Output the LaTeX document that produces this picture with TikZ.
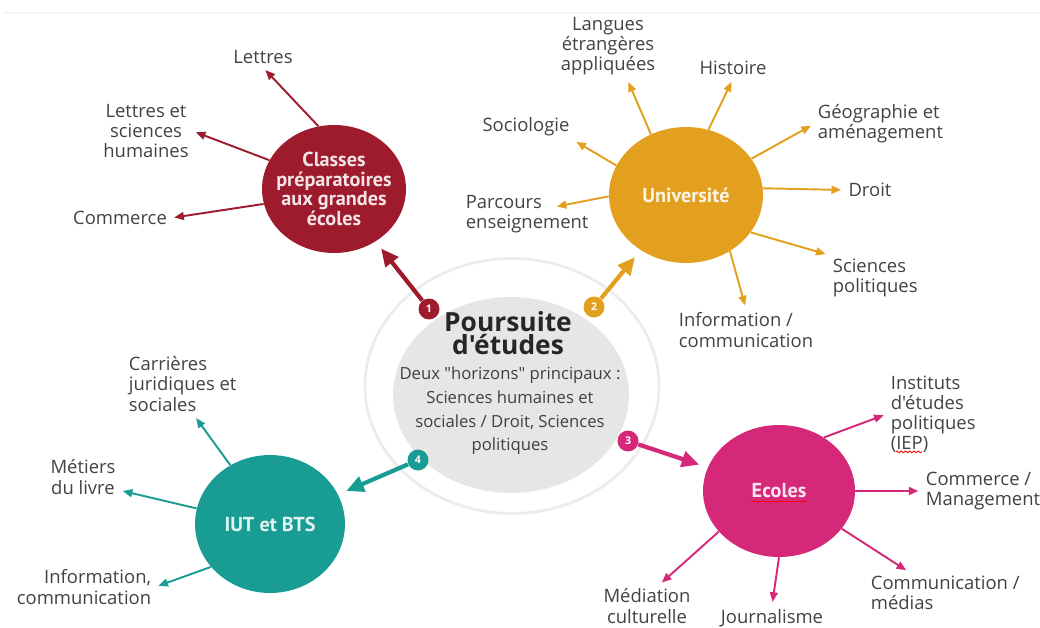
\documentclass[tikz,border=0pt]{standalone}
\usepackage{fontspec}
\setmainfont{Open Sans}[Ligatures=TeXOff]
\newfontfamily\bubblefont{PT Sans}
\usepackage{tikz}
\usetikzlibrary{calc, positioning, arrows.meta, shapes.geometric, decorations.pathmorphing}
\definecolor{prepa}{RGB}{158, 27, 46}
\definecolor{univ}{RGB}{227, 160, 30}
\definecolor{ecole}{RGB}{214, 40, 121}
\definecolor{iut}{RGB}{24, 156, 148}
\definecolor{labeltxt}{RGB}{66, 66, 66}
\definecolor{hub}{RGB}{230, 230, 230}
\definecolor{hubring}{RGB}{236, 236, 236}

\begin{document}
\begin{tikzpicture}[x=0.02cm, y=-0.02cm, font=\fontsize{10.5}{11.5}\selectfont,
  bubble/.style={ellipse, fill=#1, inner sep=0pt},
  bubbletext/.style={text=white!88!#1, font=\bubblefont\bfseries\fontsize{11.5}{11.3}\selectfont, align=center},
  lbl/.style={text=labeltxt, align=center, inner sep=2pt},
  arr/.style={draw=#1, line width=1.1pt, -{Triangle[length=5.5pt, width=4.5pt]}, shorten >=2pt},
  bigarr/.style={draw=#1, line width=2.4pt, -{Triangle[length=10pt, width=9pt]}, shorten >=5pt},
  badge/.style={circle, fill=#1, text=white, font=\bfseries\fontsize{6}{6}\selectfont, minimum size=0.42cm, inner sep=0pt},
  spellmark/.style={red, line width=0.5pt}]
  \useasboundingbox (0,0) rectangle (1040,628);
  \draw[black!4, line width=1.5pt] (4,13) -- (1040,13);
  % centre
  \node[ellipse, draw=hubring, line width=1.6pt, minimum width=5.88cm, minimum height=5.1cm] (ring) at (512,386) {};
  \node[ellipse, fill=hub, minimum width=4.72cm, minimum height=3.92cm] (hub) at (511,395) {};
  \node[align=center, text=black!85, font=\bfseries\fontsize{15}{13.5}\selectfont] (title) at (508,333) {Poursuite\\d'études};
  \node[align=center, text=black!75, font=\fontsize{9.5}{13.5}\selectfont] (horizons) at (510,411) {Deux "horizons" principaux :\\Sciences humaines et\\sociales / Droit, Sciences\\politiques};

  % the four ways
  \node[bubble=prepa, minimum width=2.88cm, minimum height=2.56cm,
    label={[bubbletext=prepa]center:{Classes\\préparatoires\\aux grandes\\écoles}}] (prepa) at (334,189) {};
  \node[bubble=univ, minimum width=3.08cm, minimum height=2.72cm,
    label={[bubbletext=univ]center:Université}] (univ) at (686,195) {};
  \node[bubble=ecole, minimum width=3.04cm, minimum height=2.64cm,
    label={[bubbletext=ecole, name=ecoletxt]center:Ecoles}] (ecoles) at (779,491) {};
  \node[bubble=iut, minimum width=3.0cm, minimum height=2.76cm,
    label={[bubbletext=iut]center:IUT et BTS}] (iut) at (270,524) {};
  \draw[spellmark] ([xshift=3pt, yshift=-2pt]ecoletxt.base west) -- ([xshift=-3pt, yshift=-2pt]ecoletxt.base east);

  \node[badge=prepa] (b1) at (429,309) {1};
  \node[badge=univ] (b2) at (594,307) {2};
  \node[badge=ecole] (b3) at (628,441) {3};
  \node[badge=iut] (b4) at (418,460) {4};
  \draw[bigarr=prepa] (b1) -- (prepa);
  \draw[bigarr=univ] (b2) -- (univ);
  \draw[bigarr=ecole] (b3) -- (ecoles);
  \draw[bigarr=iut] (b4) -- (iut);

  % labels
  \node[lbl] (lettres) at (263,57) {Lettres};
  \node[lbl] (lsh) at (146,131) {Lettres et\\sciences\\humaines};
  \node[lbl] (commerce) at (120,218) {Commerce};

  \node[lbl] (langues) at (608,46) {Langues\\étrangères\\appliquées};
  \node[lbl] (histoire) at (733,68) {Histoire};
  \node[lbl, align=left, anchor=west] (geo) at (814,124) {Géographie et\\aménagement};
  \node[lbl] (droit) at (870,190) {Droit};
  \node[lbl, align=left, anchor=west] (scpo) at (829,278) {Sciences\\politiques};
  \node[lbl, align=left, anchor=west] (infou) at (675,330) {Information /\\communication};
  \node[lbl] (socio) at (526,127) {Sociologie};
  \node[lbl, align=left, anchor=west] (parcours) at (462,214) {Parcours\\enseignement};

  \node[lbl, align=left, anchor=west] (carrieres) at (125,384) {Carrières\\juridiques et\\sociales};
  \node[lbl] (metiers) at (83,477) {Métiers\\du livre};
  \node[lbl, align=right, anchor=east] (infoi) at (155,587) {Information,\\communication};

  \node[lbl, align=left, anchor=west] (iep) at (887,414) {Instituts\\d'études\\politiques\\(IEP)};
  \node[lbl, align=left, anchor=west] (commgt) at (922,491) {Commerce /\\Management};
  \node[lbl, align=left, anchor=west] (comm) at (867,593) {Communication /\\médias};
  \node[lbl] (journ) at (772,618) {Journalisme};
  \node[lbl] (med) at (647,606) {Médiation\\culturelle};
  \draw[spellmark, decorate, decoration={snake, amplitude=0.5pt, segment length=2.4pt}]
    ([xshift=5pt, yshift=2.6pt]iep.south west) -- ([xshift=20pt, yshift=2.6pt]iep.south west);

  \draw[arr=prepa] (prepa.104) -- (lettres.south);
  \draw[arr=prepa] (prepa.156) -- (lsh.east);
  \draw[arr=prepa] (prepa.192) -- (commerce.east);

  \draw[arr=univ] (univ.120) -- (langues.-60);
  \draw[arr=univ] (univ.71) -- (histoire.south);
  \draw[arr=univ] (univ.29) -- (geo.west);
  \draw[arr=univ] (univ.5) -- (droit.west);
  \draw[arr=univ] (univ.-30) -- (scpo.north west);
  \draw[arr=univ] (univ.-52) -- (infou.north);
  \draw[arr=univ] (univ.157) -- (socio.south east);
  \draw[arr=univ] (univ.181) -- ($(parcours.north west)!0.7!(parcours.east)$);

  \draw[arr=iut] (iut.124) -- (carrieres.-70);
  \draw[arr=iut] (iut.168) -- (metiers.-20);
  \draw[arr=iut] (iut.216) -- (infoi.east);

  \draw[arr=ecole] (ecoles.50) -- (iep.west);
  \draw[arr=ecole] (ecoles.0) -- (commgt.west);
  \draw[arr=ecole] (ecoles.-31) -- (comm.150);
  \draw[arr=ecole] (ecoles.-90) -- (journ.north);
  \draw[arr=ecole] (ecoles.214) -- (med.60);
\end{tikzpicture}
\end{document}
